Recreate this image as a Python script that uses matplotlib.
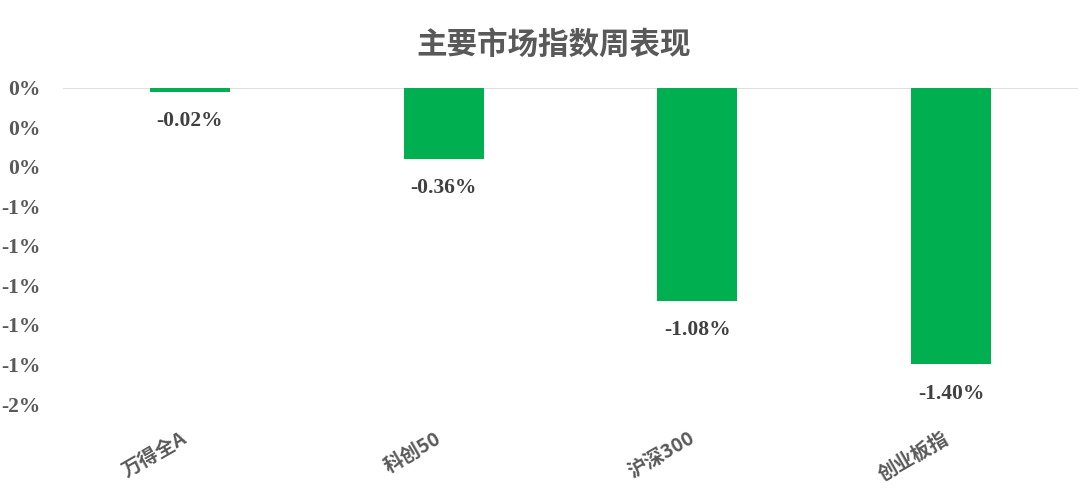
import matplotlib
matplotlib.use("Agg")
import matplotlib.pyplot as plt
import matplotlib.transforms as mtransforms
from matplotlib.ticker import FuncFormatter

plt.rcParams['font.family'] = ['Liberation Serif', 'Noto Sans CJK SC', 'DejaVu Sans']

categories = ['万得全A', '科创50', '沪深300', '创业板指']
values = [-0.02, -0.36, -1.08, -1.40]
yticks = [0, -0.2, -0.4, -0.6, -0.8, -1.0, -1.2, -1.4, -1.6]
title = '主要市场指数周表现'

W, H = 1080, 494
fig = plt.figure(figsize=(W / 100, H / 100), dpi=100)
ax = fig.add_axes([63 / W, 1 - 404 / H, (1078 - 63) / W, (404 - 88) / H])

x = list(range(len(categories)))
ax.bar(x, values, width=0.315, color='#00B050', zorder=2)
ax.set_xlim(-0.5, len(categories) - 0.5)
ax.set_ylim(-1.6, 0)
ax.axhline(0, color='#D9D9D9', linewidth=1.2, zorder=1)

for s in ax.spines.values():
    s.set_visible(False)

ax.set_yticks(yticks)
ax.yaxis.set_major_formatter(FuncFormatter(lambda v, p: f"{v:.0f}%".replace('-0%', '0%')))
ax.tick_params(axis='y', length=0, pad=16, labelsize=15.5, labelcolor='#595959')
for lbl in ax.get_yticklabels():
    lbl.set_fontweight('bold')

ax.set_xticks(x)
ax.set_xticklabels(categories, rotation=30, ha='right', rotation_mode='anchor',
                   fontsize=14, fontweight='bold', color='#595959',
                   family=['Noto Sans CJK SC', 'DejaVu Sans'])
ax.tick_params(axis='x', length=0, pad=18)
offset = mtransforms.ScaledTranslation(-9 / 100, 0, fig.dpi_scale_trans)
for lbl in ax.get_xticklabels():
    lbl.set_transform(lbl.get_transform() + offset)

for xi, v in zip(x, values):
    ax.annotate(f"{v:.2f}%", (xi, v), xytext=(0, -21), textcoords='offset points',
                ha='center', va='center', fontsize=15.5, fontweight='bold', color='#404040')

fig.text(554 / W, 1 - 45 / H, title, ha='center', va='center', fontsize=22,
         fontweight='bold', color='#595959', family=['Noto Sans CJK SC', 'DejaVu Sans'])

fig.savefig('out.png', dpi=100, facecolor='white')
